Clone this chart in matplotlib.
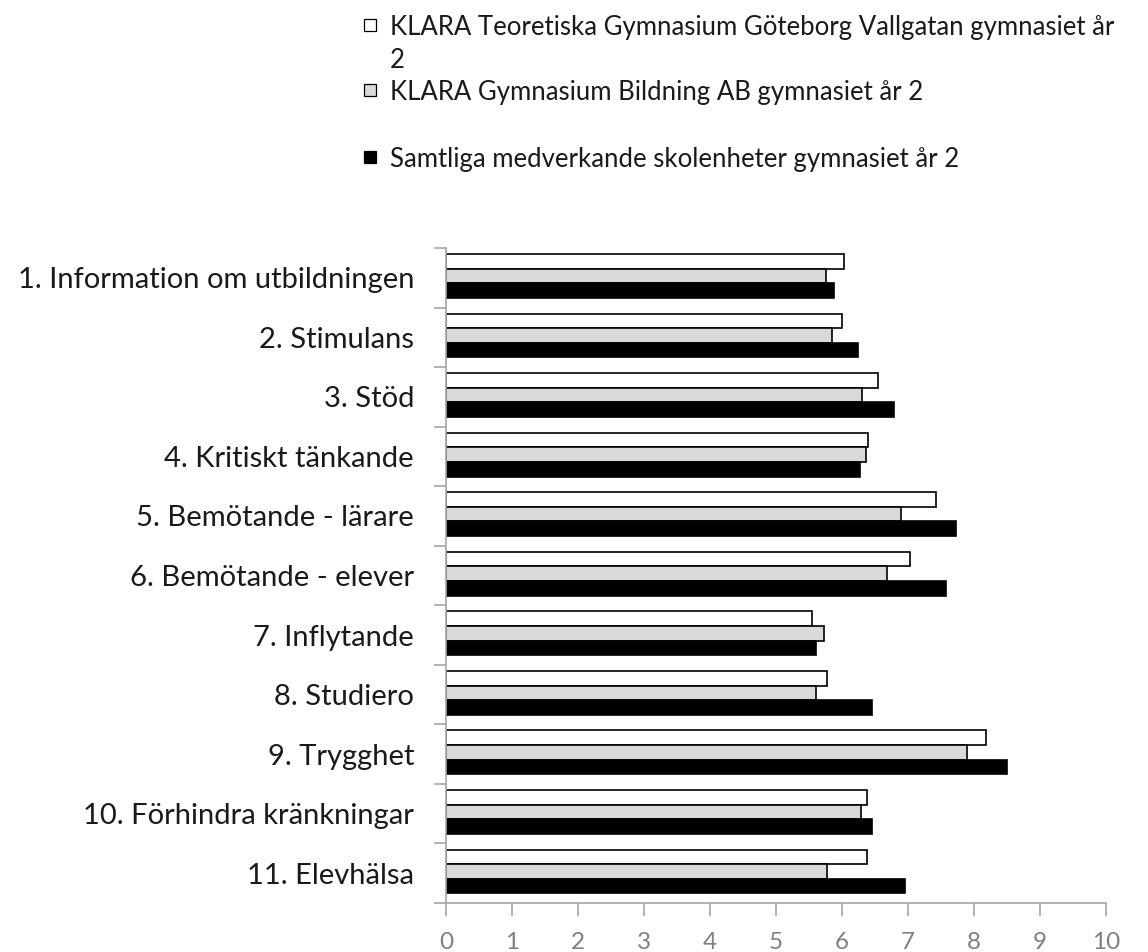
import numpy as np
import matplotlib
matplotlib.use("Agg")
import matplotlib.pyplot as plt
from matplotlib.patches import Rectangle

plt.rcParams['font.family'] = ['Lato', 'DejaVu Sans']

kategorier = ["1. Information om utbildningen", "2. Stimulans", "3. Stöd",
              "4. Kritiskt tänkande", "5. Bemötande - lärare", "6. Bemötande - elever",
              "7. Inflytande", "8. Studiero", "9. Trygghet",
              "10. Förhindra kränkningar", "11. Elevhälsa"]

vallgatan = [6.03, 6.00, 6.55, 6.39, 7.42, 7.03, 5.54, 5.78, 8.18, 6.38, 6.38]
bildning = [5.75, 5.85, 6.30, 6.36, 6.90, 6.68, 5.73, 5.60, 7.90, 6.29, 5.77]
samtliga = [5.88, 6.24, 6.79, 6.27, 7.73, 7.58, 5.61, 6.46, 8.50, 6.46, 6.95]

etiketter = ["KLARA Teoretiska Gymnasium Göteborg Vallgatan gymnasiet år\n2",
             "KLARA Gymnasium Bildning AB gymnasiet år 2",
             "Samtliga medverkande skolenheter gymnasiet år 2"]
farger = ["white", "#d9d9db", "black"]

W, H = 1148, 952
fig = plt.figure(figsize=(W/100, H/100), dpi=100)
ax = fig.add_axes([446/W, 1-903/H, (1106-446)/W, (903-248)/H])

y = np.arange(len(kategorier))
h = 0.245
for i, (vals, c) in enumerate(zip([vallgatan, bildning, samtliga], farger)):
    ax.barh(y - h + i*h - 0.03, vals, height=h, color=c, edgecolor="black", linewidth=1.2)

ax.set_ylim(len(kategorier) - 0.5, -0.5)
ax.set_xlim(0, 10)
ax.set_xticks(range(11))
ax.set_yticks(y)
ax.set_yticklabels(kategorier, fontsize=21, color="#1a1a1a")
ax.set_yticks(np.arange(-0.5, len(kategorier)), minor=True)
ax.tick_params(axis='y', which='major', length=0, pad=23)
ax.tick_params(axis='y', which='minor', length=9, color="#a6a6a6", width=1.2)
ax.tick_params(axis='x', length=9, color="#a6a6a6", width=1.2, pad=12,
               labelsize=17.5, labelcolor="#808080")
for s in ["top", "right"]:
    ax.spines[s].set_visible(False)
for s in ["left", "bottom"]:
    ax.spines[s].set_color("#a6a6a6")
    ax.spines[s].set_linewidth(1.2)

# förklaring
baslinjer = [34, 99, 166]
for lab, c, yb in zip(etiketter, farger, baslinjer):
    fig.add_artist(Rectangle((364/W, 1-(yb-3)/H), 12/W, 12/H, facecolor=c,
                             edgecolor="black", linewidth=0.9, transform=fig.transFigure))
    fig.text(390/W, 1-(yb-19)/H, lab, fontsize=18.5, color="#1a1a1a",
             va="top", ha="left", linespacing=1.42)

fig.savefig("out.png", dpi=100)
